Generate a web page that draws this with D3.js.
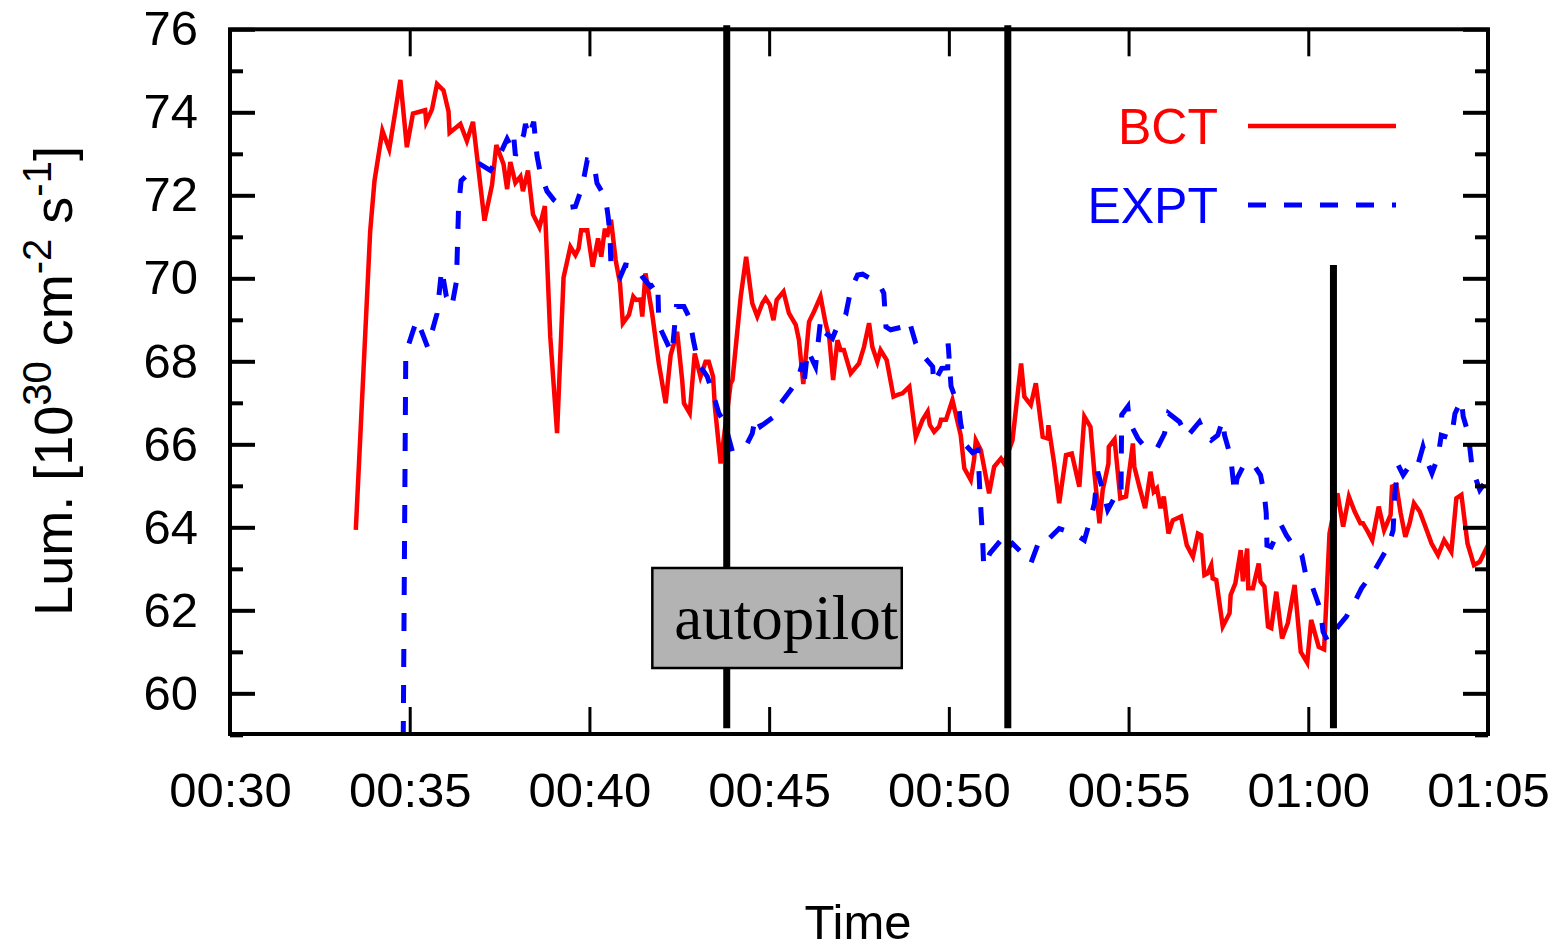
<!DOCTYPE html>
<html>
<head>
<meta charset="utf-8">
<title>Luminosity BCT vs EXPT</title>
<script src="https://d3js.org/d3.v7.min.js"></script>
<style>
  html, body { margin: 0; padding: 0; background: #fff; }
  svg { display: block; }
  .tick text { font-family: "Liberation Sans", Arial, sans-serif; font-size: 49px; fill: #000; }
  .axis path, .axis line { stroke: #000; }
  .label { font-family: "Liberation Sans", Arial, sans-serif; fill: #000; }
</style>
</head>
<body>
<svg width="1561" height="950"></svg>
<script>
// time in minutes after 00:00, luminosity in 1e30 cm^-2 s^-1
const bct = [
  [33.50,63.94],[33.90,71.13],[34.02,72.35],[34.24,73.56],[34.43,73.11],[34.60,74.02],[34.74,74.78],
  [34.92,73.16],[35.09,73.97],[35.43,74.05],[35.46,73.77],[35.62,74.07],[35.76,74.68],[35.94,74.53],
  [36.08,74.02],[36.11,73.51],[36.41,73.72],[36.59,73.31],[36.76,73.77],[37.08,71.39],[37.29,72.25],
  [37.41,73.21],[37.61,72.75],[37.71,72.15],[37.80,72.80],[37.94,72.30],[38.08,72.45],[38.15,72.10],
  [38.29,72.60],[38.43,71.54],[38.61,71.23],[38.76,71.74],[38.91,68.60],[39.10,66.27],[39.28,70.02],
  [39.47,70.76],[39.61,70.56],[39.70,70.72],[39.77,71.16],[39.94,71.16],[40.09,70.28],[40.24,70.96],
  [40.33,70.52],[40.43,71.20],[40.49,71.00],[40.60,71.41],[40.73,70.44],[40.85,69.88],[40.93,68.92],
  [41.10,69.12],[41.22,69.56],[41.30,69.48],[41.42,69.49],[41.47,69.08],[41.56,70.12],[41.75,69.12],
  [41.93,67.95],[42.12,66.99],[42.26,68.15],[42.44,68.71],[42.58,67.55],[42.63,66.99],[42.79,66.75],
  [42.93,68.19],[43.09,67.63],[43.23,67.99],[43.32,67.99],[43.44,67.63],[43.49,66.91],[43.65,65.54],
  [43.72,66.02],[43.93,67.47],[43.98,67.55],[44.21,69.56],[44.36,70.52],[44.53,69.40],[44.67,69.08],
  [44.81,69.40],[44.90,69.52],[45.02,69.36],[45.12,68.99],[45.21,69.48],[45.40,69.68],[45.55,69.16],
  [45.74,68.88],[45.83,68.51],[45.95,67.45],[46.11,68.95],[46.25,69.20],[46.43,69.56],[46.57,68.92],
  [46.67,68.59],[46.78,67.55],[46.90,68.51],[46.99,68.27],[47.08,68.27],[47.27,67.71],[47.50,67.95],
  [47.64,68.35],[47.78,68.92],[47.87,68.35],[48.01,67.99],[48.10,68.27],[48.27,68.03],[48.46,67.15],
  [48.57,67.19],[48.71,67.23],[48.90,67.39],[49.08,66.18],[49.27,66.59],[49.41,66.79],[49.47,66.47],
  [49.59,66.30],[49.73,66.43],[49.78,66.59],[49.92,66.59],[50.10,67.07],[50.24,66.55],[50.33,66.22],
  [50.43,65.42],[50.61,65.14],[50.70,65.62],[50.75,66.10],[50.89,65.86],[51.03,65.22],[51.12,64.82],
  [51.26,65.46],[51.45,65.66],[51.54,65.54],[51.77,66.10],[52.01,67.95],[52.10,67.15],[52.28,66.95],
  [52.42,67.47],[52.61,66.18],[52.75,66.14],[52.77,66.46],[52.93,65.54],[53.07,64.58],[53.26,65.74],
  [53.42,65.78],[53.63,64.98],[53.77,66.67],[53.94,66.42],[54.05,65.30],[54.19,64.10],[54.28,64.90],
  [54.44,65.54],[54.45,65.94],[54.61,66.12],[54.77,64.70],[54.93,64.74],[55.12,66.02],[55.16,65.46],
  [55.30,64.98],[55.46,64.46],[55.61,65.34],[55.70,64.86],[55.79,64.94],[55.89,64.46],[55.98,64.74],
  [56.11,63.85],[56.23,64.17],[56.46,64.26],[56.62,63.57],[56.79,63.29],[56.93,63.85],[57.02,63.81],
  [57.11,62.85],[57.20,62.89],[57.30,63.09],[57.34,62.77],[57.44,62.73],[57.62,61.61],[57.81,61.93],
  [57.84,62.37],[57.97,62.65],[58.12,63.45],[58.18,62.70],[58.30,63.49],[58.33,62.53],[58.46,62.53],
  [58.62,63.13],[58.67,62.69],[58.78,62.57],[58.88,61.61],[58.97,61.57],[59.11,62.45],[59.27,61.32],
  [59.43,61.69],[59.62,62.61],[59.79,61.00],[59.97,60.74],[60.08,61.77],[60.29,61.12],[60.44,61.06],
  [60.59,63.85],[60.81,64.82],[60.97,64.02],[61.13,64.74],[61.29,64.38],[61.45,64.10],[61.52,64.10],
  [61.66,63.89],[61.78,63.69],[61.96,64.50],[62.11,63.93],[62.29,64.30],[62.33,64.98],[62.45,65.02],
  [62.57,64.34],[62.70,63.77],[62.82,64.10],[62.94,64.58],[63.10,64.38],[63.24,64.06],[63.43,63.61],
  [63.61,63.33],[63.78,63.69],[63.98,63.41],[64.12,64.70],[64.26,64.78],[64.43,63.61],[64.61,63.09],
  [64.77,63.17],[65.00,63.57]
];

const expt = [
  [34.82,58.90],[34.89,68.19],[35.08,68.70],[35.20,69.00],[35.34,68.70],[35.50,68.34],[35.76,69.15],
  [35.89,70.22],[36.02,69.56],[36.17,69.31],[36.30,69.92],[36.36,71.74],[36.43,72.35],[36.73,72.60],
  [36.96,72.75],[37.24,72.60],[37.47,72.91],[37.71,73.36],[37.80,73.21],[37.89,73.46],[37.94,72.96],
  [38.17,73.46],[38.22,73.72],[38.31,73.41],[38.45,73.77],[38.54,72.96],[38.63,72.55],[38.82,72.10],
  [39.01,71.89],[39.29,71.69],[39.61,71.73],[39.80,72.21],[39.94,72.85],[40.12,72.81],[40.21,72.29],
  [40.45,71.93],[40.52,71.49],[40.57,71.08],[40.60,70.28],[40.68,70.28],[40.86,70.04],[41.00,70.32],
  [41.28,70.28],[41.47,70.04],[41.70,69.80],[41.90,69.92],[41.92,69.24],[41.95,68.83],[42.21,68.35],
  [42.30,68.19],[42.42,69.32],[42.63,69.32],[42.79,69.04],[42.89,68.51],[42.98,68.15],[43.09,67.87],
  [43.28,67.63],[43.46,67.15],[43.60,66.75],[43.75,66.55],[43.98,65.82],[44.39,66.02],[44.53,66.26],
  [44.62,66.67],[44.76,66.43],[45.14,66.67],[45.32,66.99],[45.60,67.31],[45.79,67.55],[45.93,67.96],
  [45.97,67.45],[46.07,68.27],[46.29,67.87],[46.43,68.99],[46.53,68.71],[46.76,68.55],[46.91,68.87],
  [47.13,69.12],[47.27,69.72],[47.46,70.08],[47.60,70.10],[48.05,69.88],[48.19,69.64],[48.25,68.83],
  [48.38,68.76],[48.72,68.83],[48.89,68.99],[49.08,68.43],[49.20,68.23],[49.55,67.87],[49.58,67.47],
  [49.80,67.83],[49.97,67.84],[49.98,68.43],[50.06,67.40],[50.28,66.87],[50.33,66.50],[50.45,66.00],
  [50.66,65.80],[50.81,65.86],[50.86,64.90],[50.94,63.69],[50.97,63.05],[51.14,63.37],[51.45,63.69],
  [51.52,63.41],[51.77,63.61],[52.05,63.37],[52.28,63.13],[52.52,63.69],[52.70,63.65],[53.07,63.97],
  [53.21,63.93],[53.49,63.85],[53.77,63.69],[53.96,64.26],[54.05,64.58],[54.14,65.34],[54.33,64.74],
  [54.42,64.42],[54.65,64.78],[54.79,64.74],[54.80,65.94],[54.81,66.71],[54.98,66.91],[55.02,66.54],
  [55.26,66.14],[55.49,65.90],[55.79,65.90],[56.00,66.26],[56.11,66.75],[56.42,66.54],[56.62,66.18],
  [56.97,66.54],[57.11,66.26],[57.30,66.10],[57.48,66.22],[57.62,66.58],[57.67,66.22],[57.84,65.70],
  [57.90,65.22],[57.95,64.82],[58.02,65.18],[58.23,65.54],[58.46,65.54],[58.67,65.26],[58.78,64.78],
  [58.83,64.34],[58.85,63.57],[58.97,63.53],[59.25,64.05],[59.39,63.81],[59.67,63.45],[59.82,63.33],
  [59.94,62.81],[60.08,62.65],[60.34,62.01],[60.41,61.49],[60.55,61.24],[60.83,61.61],[61.06,61.85],
  [61.32,62.25],[61.48,62.53],[61.85,62.97],[62.22,63.53],[62.36,63.93],[62.41,64.82],[62.50,65.50],
  [62.64,65.26],[62.92,65.62],[63.06,65.54],[63.19,65.94],[63.29,65.62],[63.44,65.30],[63.61,65.70],
  [63.70,66.22],[63.98,66.14],[64.08,66.74],[64.26,67.07],[64.31,66.67],[64.45,66.26],[64.56,65.42],
  [64.77,64.90],[65.00,65.18]
];

const xTickMinutes = [30, 35, 40, 45, 50, 55, 60, 65];
const yMajorTicks = [60, 62, 64, 66, 68, 70, 72, 74, 76];
const yMinorTicks = [59, 61, 63, 65, 67, 69, 71, 73, 75];

// vertical event lines: time, top value
const markerTimes = [43.82, 51.64, 60.70];
const markerTops = [76.1, 76.1, 70.32];
const markerBottom = 59.16;

// autopilot box: time range, luminosity range
const boxTimes = [41.75, 48.69];
const boxLums = [60.61, 63.02];

const seriesNames = ["BCT", "EXPT"];
const seriesColors = ["#ff0000", "#0000ff"];

const toDate = m => new Date(2000, 0, 1, 0, 0, 0, Math.round(m * 60000));

const svg = d3.select("svg");
const margin = {left: 230, right: 1488, top: 29.3, bottom: 734};

const x = d3.scaleTime()
  .domain([toDate(30), toDate(65)])
  .range([margin.left, margin.right]);
const y = d3.scaleLinear()
  .domain([59.02, 76])
  .range([margin.bottom, margin.top]);

svg.append("clipPath").attr("id", "plot")
  .append("rect")
  .attr("x", margin.left).attr("y", margin.top)
  .attr("width", margin.right - margin.left)
  .attr("height", margin.bottom - margin.top);

const line = d3.line()
  .x(d => x(toDate(d[0])))
  .y(d => y(d[1]));

svg.append("path")
  .datum(bct)
  .attr("clip-path", "url(#plot)")
  .attr("fill", "none")
  .attr("stroke", seriesColors[0])
  .attr("stroke-width", 4.5)
  .attr("stroke-linejoin", "miter")
  .attr("d", line);

svg.append("path")
  .datum(expt)
  .attr("clip-path", "url(#plot)")
  .attr("fill", "none")
  .attr("stroke", seriesColors[1])
  .attr("stroke-width", 5)
  .attr("stroke-dasharray", "18,18")
  .attr("d", line);

// axes
const fmt = d3.timeFormat("%H:%M");
const xTicks = xTickMinutes.map(toDate);

svg.append("g").attr("class", "axis")
  .attr("transform", `translate(0,${margin.bottom})`)
  .call(d3.axisBottom(x).tickValues(xTicks).tickFormat(fmt)
    .tickSizeInner(-27).tickSizeOuter(0).tickPadding(38))
  .call(g => g.selectAll("line").attr("stroke-width", 3))
  .call(g => g.select(".domain").remove());

svg.append("g").attr("class", "axis")
  .attr("transform", `translate(0,${margin.top})`)
  .call(d3.axisTop(x).tickValues(xTicks).tickFormat("")
    .tickSizeInner(-27).tickSizeOuter(0))
  .call(g => g.selectAll("line").attr("stroke-width", 3))
  .call(g => g.select(".domain").remove());

svg.append("g").attr("class", "axis")
  .attr("transform", `translate(${margin.left},0)`)
  .call(d3.axisLeft(y).tickValues(yMajorTicks).tickFormat(d3.format("d"))
    .tickSizeInner(-25).tickSizeOuter(0).tickPadding(32))
  .call(g => g.selectAll("line").attr("stroke-width", 4))
  .call(g => g.select(".domain").remove());

svg.append("g").attr("class", "axis")
  .attr("transform", `translate(${margin.left},0)`)
  .call(d3.axisLeft(y).tickValues(yMinorTicks).tickFormat("")
    .tickSizeInner(-13).tickSizeOuter(0))
  .call(g => g.selectAll("line").attr("stroke-width", 4))
  .call(g => g.select(".domain").remove());

svg.append("g").attr("class", "axis")
  .attr("transform", `translate(${margin.right},0)`)
  .call(d3.axisRight(y).tickValues(yMajorTicks).tickFormat("")
    .tickSizeInner(-25).tickSizeOuter(0))
  .call(g => g.selectAll("line").attr("stroke-width", 4))
  .call(g => g.select(".domain").remove());

svg.append("g").attr("class", "axis")
  .attr("transform", `translate(${margin.right},0)`)
  .call(d3.axisRight(y).tickValues(yMinorTicks).tickFormat("")
    .tickSizeInner(-13).tickSizeOuter(0))
  .call(g => g.selectAll("line").attr("stroke-width", 4))
  .call(g => g.select(".domain").remove());

// frame
svg.append("rect")
  .attr("x", margin.left).attr("y", margin.top)
  .attr("width", margin.right - margin.left)
  .attr("height", margin.bottom - margin.top)
  .attr("fill", "none")
  .attr("stroke", "#000")
  .attr("stroke-width", 4);

// event lines
svg.selectAll(".marker")
  .data(markerTimes)
  .join("line")
  .attr("class", "marker")
  .attr("x1", d => x(toDate(d))).attr("x2", d => x(toDate(d)))
  .attr("y1", (d, i) => y(markerTops[i]))
  .attr("y2", y(markerBottom))
  .attr("stroke", "#000")
  .attr("stroke-width", 7);

// autopilot box
const bx0 = x(toDate(boxTimes[0])), bx1 = x(toDate(boxTimes[1]));
const by0 = y(boxLums[1]), by1 = y(boxLums[0]);
svg.append("rect")
  .attr("x", bx0).attr("y", by0)
  .attr("width", bx1 - bx0).attr("height", by1 - by0)
  .attr("fill", "#b3b3b3")
  .attr("stroke", "#000")
  .attr("stroke-width", 2.5);
svg.append("text")
  .attr("x", bx0 + 22).attr("y", by0 + 71)
  .attr("font-family", "'Liberation Serif', 'Times New Roman', serif")
  .attr("font-size", 63)
  .attr("fill", "#000")
  .text("autopilot");

// legend
const legendY = [126, 205];
seriesNames.forEach((name, i) => {
  svg.append("text")
    .attr("class", "label")
    .attr("x", 1218).attr("y", legendY[i] + 18)
    .attr("text-anchor", "end")
    .attr("font-size", 50)
    .style("fill", seriesColors[i])
    .text(name);
  svg.append("line")
    .attr("x1", 1248).attr("x2", 1396)
    .attr("y1", legendY[i]).attr("y2", legendY[i])
    .attr("stroke", seriesColors[i])
    .attr("stroke-width", i === 0 ? 4.5 : 5)
    .attr("stroke-dasharray", i === 0 ? null : "18,18");
});

// axis titles
svg.append("text")
  .attr("class", "label")
  .attr("x", 858).attr("y", 939)
  .attr("text-anchor", "middle")
  .attr("font-size", 49)
  .text("Time");

const yTitle = svg.append("text")
  .attr("class", "label")
  .attr("transform", "translate(72,381) rotate(-90)")
  .attr("text-anchor", "middle")
  .attr("font-size", 54);
yTitle.append("tspan").text("Lum. [10");
yTitle.append("tspan").attr("dy", -21).attr("font-size", 40).text("30");
yTitle.append("tspan").attr("dy", 21).text(" cm");
yTitle.append("tspan").attr("dy", -21).attr("font-size", 40).text("-2");
yTitle.append("tspan").attr("dy", 21).text(" s");
yTitle.append("tspan").attr("dy", -21).attr("font-size", 40).text("-1");
yTitle.append("tspan").attr("dy", 21).text("]");
</script>
</body>
</html>
